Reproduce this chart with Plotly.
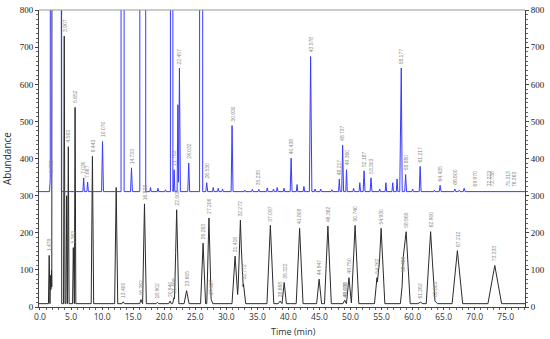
import plotly.graph_objects as go

# ---------------- data ----------------
# black chromatogram: retention time (min), apex abundance, half base width (min), label
black_rt = [1.479, 1.70, 1.85, 2.70, 3.907, 4.30, 4.563, 5.363, 5.652, 8.443, 12.27, 13.400,
            16.262, 16.823, 18.902, 20.940, 21.598, 22.008, 23.605, 26.263, 27.206, 27.527,
            31.418, 32.272, 32.772, 37.097, 38.668, 39.322, 41.808, 44.947, 46.362, 49.038,
            49.090, 49.750, 50.740, 54.262, 54.930, 58.480, 58.965, 61.262, 62.900, 63.603,
            67.212, 73.233]
black_apex = [139, 85, 100, 30000, 730, 300, 432, 160, 538, 406, 322, 14,
              20, 278, 13, 16, 26, 262, 44, 172, 240, 22,
              137, 234, 62, 220, 16, 66, 212, 75, 218, 14,
              14, 79, 220, 79, 212, 84, 203, 13, 203, 16,
              152, 112]
black_hw = [0.12, 0.10, 0.10, 0.80, 0.12, 0.12, 0.12, 0.12, 0.12, 0.20, 0.25, 0.20,
            0.20, 0.30, 0.20, 0.20, 0.25, 0.35, 0.40, 0.40, 0.35, 0.30,
            0.50, 0.45, 0.35, 0.55, 0.30, 0.35, 0.55, 0.40, 0.55, 0.25,
            0.25, 0.40, 0.60, 0.40, 0.60, 0.45, 0.65, 0.40, 0.70, 0.40,
            0.85, 1.10]
black_lbl = ["1.479", "", "", "", "3.907", "", "4.563", "5.363", "5.652", "8.443", "", "13.400",
             "16.262", "16.823", "18.902", "20.940", "21.598", "22.008", "23.605", "26.263", "27.206", "27.527",
             "31.418", "32.272", "32.772", "37.097", "38.668", "39.322", "41.808", "44.947", "46.362", "49.038",
             "49.090", "49.750", "50.740", "54.262", "54.930", "58.480", "58.965", "61.262", "62.900", "63.603",
             "67.212", "73.233"]
black_base = 9

# blue chromatogram
blue_rt = [1.66, 2.55, 7.030, 7.667, 10.070, 13.30, 14.733, 16.55, 17.80, 19.00, 20.20, 21.20,
           21.60, 22.20, 22.457, 23.95, 25.95, 26.85, 27.90, 28.70, 29.40, 30.930, 33.00, 34.20,
           35.235, 36.60, 37.60, 38.20, 39.30, 40.438, 41.40, 42.50, 43.578, 44.30, 45.20, 47.00,
           48.20, 48.737, 49.360, 50.50, 51.50, 52.187, 53.303, 54.70, 55.70, 56.80, 57.50, 58.05,
           58.177, 58.880, 60.00, 61.217, 63.50, 64.435, 66.800, 67.50, 68.30, 69.970, 72.223,
           72.738, 75.313, 76.363]
blue_apex = [350, 30000, 348, 337, 446, 30000, 375, 30000, 322, 320, 316, 30000,
             370, 545, 644, 388, 30000, 335, 322, 320, 318, 489, 315, 317,
             317, 321, 318, 322, 320, 401, 330, 325, 675, 318, 318, 316,
             345, 436, 370, 320, 335, 367, 348, 318, 335, 335, 345, 550,
             644, 357, 318, 379, 315, 328, 318, 315, 320, 313, 313,
             313, 313, 313]
blue_hw = [0.12, 0.90, 0.12, 0.12, 0.15, 0.25, 0.15, 0.48, 0.12, 0.12, 0.12, 0.20,
           0.12, 0.12, 0.15, 0.15, 0.25, 0.15, 0.12, 0.12, 0.12, 0.15, 0.12, 0.12,
           0.12, 0.12, 0.12, 0.12, 0.12, 0.15, 0.12, 0.12, 0.20, 0.12, 0.12, 0.12,
           0.12, 0.15, 0.12, 0.12, 0.12, 0.15, 0.15, 0.12, 0.12, 0.12, 0.12, 0.12,
           0.15, 0.15, 0.12, 0.15, 0.12, 0.15, 0.15, 0.15, 0.15, 0.15, 0.15,
           0.15, 0.15, 0.15]
blue_lbl = ["1.783", "", "7.030", "7.667", "10.070", "", "14.733", "", "", "", "", "",
            "21.763", "", "22.457", "24.032", "", "26.530", "", "", "", "30.930", "", "",
            "35.235", "", "", "", "", "40.438", "", "", "43.578", "", "", "",
            "48.217", "48.737", "49.360", "", "", "52.187", "53.303", "", "", "", "", "",
            "58.177", "58.880", "", "61.217", "", "64.435", "66.800", "", "", "69.970", "72.223",
            "72.738", "75.313", "76.363"]
blue_base = 311

x_ticks = [0, 5, 10, 15, 20, 25, 30, 35, 40, 45, 50, 55, 60, 65, 70, 75]
x_tick_text = ["0.0", "5.0", "10.0", "15.0", "20.0", "25.0", "30.0", "35.0", "40.0",
               "45.0", "50.0", "55.0", "60.0", "65.0", "70.0", "75.0"]
y_ticks = [0, 100, 200, 300, 400, 500, 600, 700, 800]

T0, T1 = -0.16, 78.1
Y0, Y1 = 0, 800.5


def build(rt, apex, hw, base):
    pts = {T0, T1}
    for t, w in zip(rt, hw):
        pts.update([t - w, t, t + w])
    xs = sorted(p for p in pts if T0 <= p <= T1)
    ys = []
    for x in xs:
        v = base
        for t, a, w in zip(rt, apex, hw):
            d = abs(x - t)
            if d < w:
                v += (a - base) * (1 - d / w)
        ys.append(v)
    return xs, ys


bx, by = build(black_rt, black_apex, black_hw, black_base)
ux, uy = build(blue_rt, blue_apex, blue_hw, blue_base)

fig = go.Figure()
fig.add_trace(go.Scatter(x=bx, y=by, mode="lines", line=dict(color="#2b2b2b", width=1),
                         hoverinfo="skip", showlegend=False))
fig.add_trace(go.Scatter(x=ux, y=uy, mode="lines", line=dict(color="#3a3aff", width=1),
                         hoverinfo="skip", showlegend=False))
# empty trace so the right-hand axis is drawn
fig.add_trace(go.Scatter(x=[], y=[], yaxis="y2", hoverinfo="skip", showlegend=False))

ann = []
for rts, apx, lbls in ((black_rt, black_apex, black_lbl), (blue_rt, blue_apex, blue_lbl)):
    for t, a, l in zip(rts, apx, lbls):
        if l and a < 790:
            ann.append(dict(x=t, y=a, text=l, textangle=-90, showarrow=False,
                            xanchor="center", yanchor="bottom", yshift=2,
                            font=dict(size=5, color="#8a8a8a", family="Liberation Sans")))
# x-axis title (sits slightly right of the plot centre in the reference)
ann.append(dict(text="Time (min)", xref="paper", yref="paper", x=0.523, y=-0.083,
                xanchor="center", yanchor="middle", showarrow=False,
                font=dict(family="Open Sans", size=9, color="#333")))

axis_common = dict(showgrid=False, zeroline=False, showline=True, linecolor="#444", linewidth=1,
                   tickcolor="#444", ticklabeloverflow="allow")

fig.update_layout(
    width=550, height=339,
    margin=dict(l=37, r=20, t=5, b=32),
    paper_bgcolor="white", plot_bgcolor="white",
    annotations=ann,
    xaxis=dict(range=[T0, T1], tickvals=x_ticks, ticktext=x_tick_text,
               ticks="outside", ticklen=2,
               minor=dict(dtick=1, tick0=0, ticks="outside", ticklen=2, tickcolor="#666"),
               tickfont=dict(family="Open Sans", size=8.5, color="#333"),
               **axis_common),
    yaxis=dict(range=[Y0, Y1], tickvals=y_ticks, ticks="outside", ticklen=3,
               minor=dict(dtick=12.5, ticks="outside", ticklen=2, tickcolor="#666"),
               tickfont=dict(family="Liberation Serif", size=9, color="#222"),
               title=dict(text="Abundance", font=dict(family="Open Sans", size=10, color="#333"),
                          standoff=8),
               **axis_common),
    yaxis2=dict(range=[Y0, Y1], tickvals=y_ticks, overlaying="y", side="right",
                ticks="outside", ticklen=3,
                minor=dict(dtick=12.5, ticks="outside", ticklen=2, tickcolor="#666"),
                tickfont=dict(family="Liberation Serif", size=9, color="#222"),
                **axis_common),
    shapes=[dict(type="line", xref="paper", yref="paper", x0=0, x1=1, y0=1, y1=1,
                 line=dict(color="#999", width=1))],
)

fig.write_html("out.html", config={"displayModeBar": False},
               post_script="document.body.style.margin='0';")
